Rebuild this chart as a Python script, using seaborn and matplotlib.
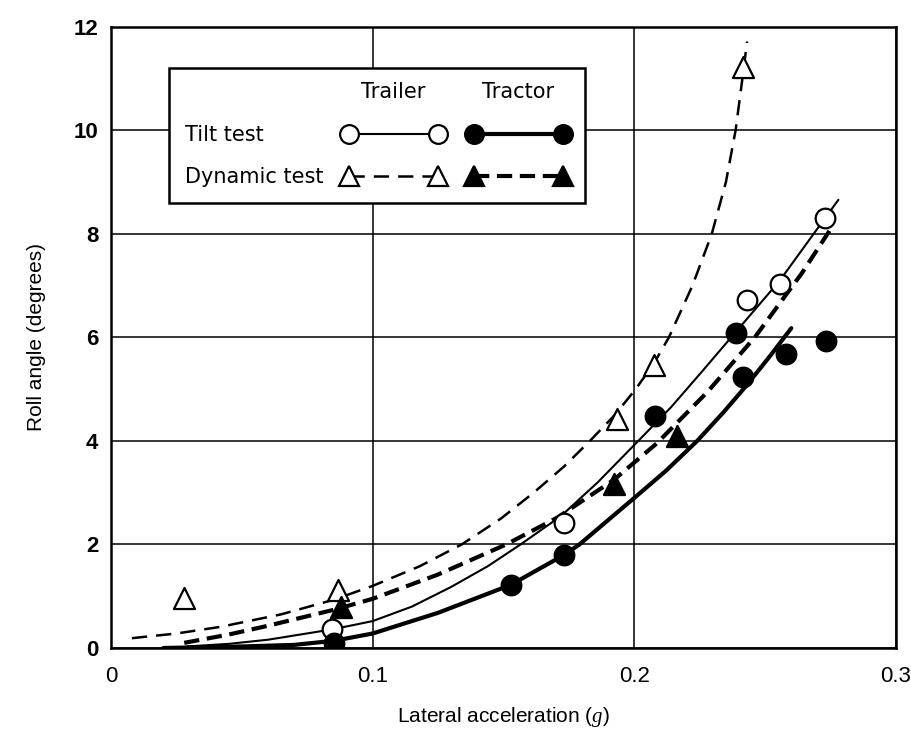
import matplotlib
matplotlib.use("Agg")
import matplotlib.pyplot as plt
import matplotlib.text as mtext
from matplotlib.lines import Line2D
from matplotlib.legend_handler import HandlerBase
import seaborn as sns

# ---------------- data ----------------
# measured points
trailer_tilt_x = [0.0846, 0.173, 0.2429, 0.2556, 0.2728]
trailer_tilt_y = [0.36, 2.42, 6.72, 7.03, 8.30]
tractor_tilt_x = [0.0853, 0.1528, 0.1732, 0.2078, 0.2390, 0.2415, 0.2581, 0.2734]
tractor_tilt_y = [0.10, 1.22, 1.80, 4.48, 6.08, 5.24, 5.68, 5.94]
trailer_dyn_x = [0.028, 0.0868, 0.1933, 0.2075, 0.2416]
trailer_dyn_y = [0.97, 1.12, 4.42, 5.47, 11.23]
tractor_dyn_x = [0.0878, 0.1922, 0.2164]
tractor_dyn_y = [0.79, 3.17, 4.10]

# fitted curves
trailer_dyn_fit_x = [0.008, 0.025, 0.042, 0.065, 0.085, 0.100, 0.118, 0.134, 0.149,
                     0.1615, 0.173, 0.183, 0.1925, 0.2005, 0.2075, 0.2132, 0.2222,
                     0.2296, 0.2350, 0.2387, 0.2413, 0.2431]
trailer_dyn_fit_y = [0.19, 0.28, 0.41, 0.65, 0.93, 1.20, 1.58, 2.00, 2.50,
                     3.00, 3.50, 4.00, 4.50, 5.00, 5.50, 6.00, 7.00,
                     8.00, 9.00, 10.00, 11.00, 11.72]
trailer_tilt_fit_x = [0.029, 0.045, 0.060, 0.0846, 0.100, 0.115, 0.130, 0.144, 0.1565,
                      0.172, 0.186, 0.2011, 0.214, 0.226, 0.239, 0.2556, 0.2728, 0.278]
trailer_tilt_fit_y = [0.03, 0.08, 0.16, 0.36, 0.52, 0.80, 1.18, 1.58, 2.00,
                      2.55, 3.20, 3.98, 4.65, 5.35, 6.12, 7.10, 8.30, 8.66]
tractor_dyn_fit_x = [0.028, 0.045, 0.060, 0.0853, 0.100, 0.125, 0.151, 0.1706, 0.1922,
                     0.2085, 0.228, 0.2463, 0.264, 0.2756]
tractor_dyn_fit_y = [0.10, 0.26, 0.43, 0.74, 0.95, 1.42, 2.00, 2.52, 3.25,
                     3.95, 4.95, 6.02, 7.24, 8.14]
tractor_tilt_fit_x = [0.020, 0.050, 0.070, 0.0853, 0.100, 0.125, 0.1528, 0.1732, 0.179,
                      0.200, 0.212, 0.224, 0.234, 0.243, 0.252, 0.260]
tractor_tilt_fit_y = [0.00, 0.03, 0.06, 0.14, 0.28, 0.68, 1.22, 1.80, 2.00,
                      2.90, 3.42, 4.00, 4.55, 5.08, 5.65, 6.18]

x_ticks = [0.0, 0.1, 0.2, 0.3]
x_tick_labels = ["0", "0.1", "0.2", "0.3"]
y_ticks = [0, 2, 4, 6, 8, 10, 12]
y_tick_labels = ["0", "2", "4", "6", "8", "10", "12"]
column_headers = ["Trailer", "Tractor"]
row_labels = ["Tilt test", "Dynamic test"]

# ---------------- style ----------------
sns.set_theme(style="white")
plt.rcParams["font.family"] = ["Liberation Sans", "DejaVu Sans"]
plt.rcParams["mathtext.fontset"] = "custom"
plt.rcParams["mathtext.it"] = "Liberation Serif:italic"
plt.rcParams["mathtext.rm"] = "Liberation Sans"
for k in ["text.color", "axes.labelcolor", "xtick.color", "ytick.color",
          "axes.edgecolor"]:
    plt.rcParams[k] = "black"

fig = plt.figure(figsize=(9.11, 7.41), dpi=100)
fig.patch.set_facecolor("white")
ax = fig.add_axes([0.1218, 0.1255, 0.8617, 0.8381])

THIN = 1.5
THICK = 3.0
thin_dash = (0, (11 / 1.8, 6.5 / 1.8))
thick_dash = (0, (11 / THICK, 5.5 / THICK))

# curves
sns.lineplot(x=trailer_dyn_fit_x, y=trailer_dyn_fit_y, ax=ax, color="black",
             linewidth=1.8, linestyle=thin_dash, sort=False, estimator=None, zorder=3)
sns.lineplot(x=trailer_tilt_fit_x, y=trailer_tilt_fit_y, ax=ax, color="black",
             linewidth=THIN, sort=False, estimator=None, zorder=3)
sns.lineplot(x=tractor_dyn_fit_x, y=tractor_dyn_fit_y, ax=ax, color="black",
             linewidth=THICK, linestyle=thick_dash, sort=False, estimator=None, zorder=3)
sns.lineplot(x=tractor_tilt_fit_x, y=tractor_tilt_fit_y, ax=ax, color="black",
             linewidth=THICK, sort=False, estimator=None, zorder=3)
for ln in ax.lines:
    ln.set_solid_joinstyle("round")
    ln.set_dash_joinstyle("round")

# points
CIRC_S = 200
TRI_S = 230
sns.scatterplot(x=trailer_tilt_x, y=trailer_tilt_y, ax=ax, marker="o", s=CIRC_S,
                color="white", edgecolor="black", linewidth=1.6, zorder=5)
sns.scatterplot(x=tractor_tilt_x, y=tractor_tilt_y, ax=ax, marker="o", s=CIRC_S,
                color="black", edgecolor="black", linewidth=1.6, zorder=5)
sns.scatterplot(x=trailer_dyn_x, y=trailer_dyn_y, ax=ax, marker="^", s=TRI_S,
                color="white", edgecolor="black", linewidth=1.6, zorder=5)
sns.scatterplot(x=tractor_dyn_x, y=tractor_dyn_y, ax=ax, marker="^", s=TRI_S,
                color="black", edgecolor="black", linewidth=1.6, zorder=5)

# axes
ax.set_xlim(0, 0.3)
ax.set_ylim(0, 12)
ax.set_xticks(x_ticks)
ax.set_xticklabels(x_tick_labels, fontsize=16)
ax.set_yticks(y_ticks)
ax.set_yticklabels(y_tick_labels, fontsize=16, fontweight="bold")
ax.tick_params(axis="both", length=0, colors="black")
ax.tick_params(axis="x", pad=13)
ax.tick_params(axis="y", pad=9)
ax.grid(True, color="black", linewidth=1.1)
ax.set_axisbelow(True)
for sp in ax.spines.values():
    sp.set_color("black")
    sp.set_linewidth(1.8)
ax.set_facecolor("white")
ax.set_xlabel("Lateral acceleration ($g$)", fontsize=15, labelpad=13, color="black")
ax.set_ylabel("Roll angle (degrees)", fontsize=15, labelpad=20, color="black")


# ---------------- legend ----------------
class HeaderHandle:
    def __init__(self, text):
        self.text = text


class HeaderHandler(HandlerBase):
    def create_artists(self, legend, orig_handle, xdescent, ydescent,
                       width, height, fontsize, trans):
        t = mtext.Text(-xdescent + width / 2, -ydescent + height / 2,
                       orig_handle.text, ha="center", va="center",
                       fontsize=fontsize, family="DejaVu Sans", color="black",
                       transform=trans)
        return [t]


MS = 13.5
h_trailer_tilt = Line2D([], [], color="black", lw=THIN, marker="o", ms=MS,
                        mfc="white", mec="black", mew=1.6)
h_tractor_tilt = Line2D([], [], color="black", lw=THICK, marker="o", ms=MS,
                        mfc="black", mec="black", mew=1.6)
h_trailer_dyn = Line2D([], [], color="black", lw=1.8, linestyle=thin_dash,
                       marker="^", ms=MS + 1, mfc="white", mec="black", mew=1.6)
h_tractor_dyn = Line2D([], [], color="black", lw=THICK, linestyle=thick_dash,
                       marker="^", ms=MS + 1, mfc="black", mec="black", mew=1.6)

handles = [HeaderHandle(column_headers[0]), h_trailer_tilt, h_trailer_dyn,
           HeaderHandle(column_headers[1]), h_tractor_tilt, h_tractor_dyn]
labels = ["", row_labels[0], row_labels[1], "", "", ""]

leg = ax.legend(handles, labels, handler_map={HeaderHandle: HeaderHandler()},
                ncol=2, markerfirst=False, numpoints=2,
                loc="upper left", bbox_to_anchor=(0.0739, 0.934),
                borderaxespad=0, prop={"family": "DejaVu Sans", "size": 15},
                handlelength=4.9, handletextpad=0.8, columnspacing=0.3,
                borderpad=0.75, labelspacing=1.04, fancybox=False,
                framealpha=1, frameon=True)
leg.get_frame().set_edgecolor("black")
leg.get_frame().set_linewidth(1.8)
leg.set_zorder(6)
for t in leg.get_texts():
    t.set_color("black")

# first column: labels flush left, handles flush right (width in pixels)
cols = leg._legend_handle_box.get_children()
first_col = cols[0]
first_col.width = 260.0
for item in first_col.get_children():
    item.mode = "expand"

fig.savefig("out.png", dpi=100, facecolor="white")
